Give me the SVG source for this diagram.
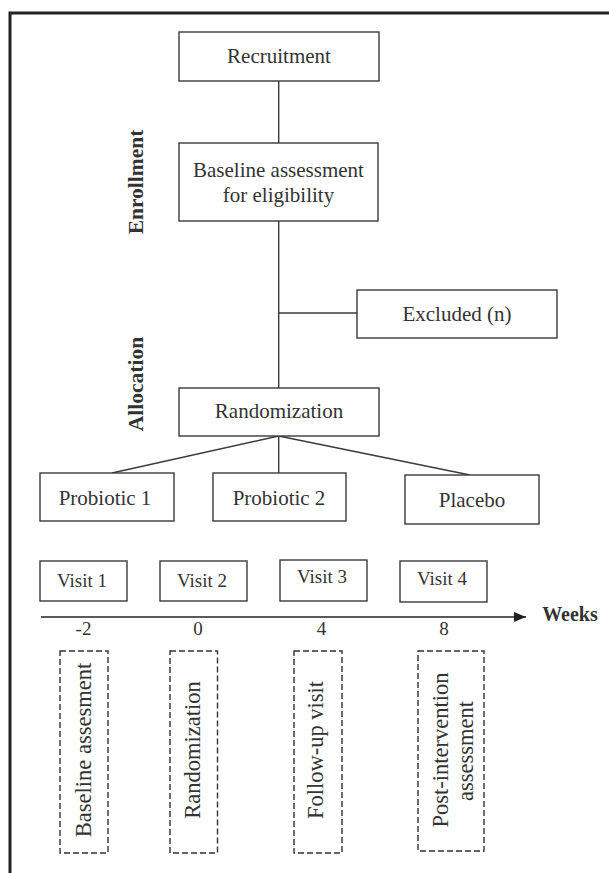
<svg xmlns="http://www.w3.org/2000/svg" width="609" height="873" viewBox="0 0 609 873">
<style>
.box{fill:#fff;stroke:#3a3a3a;stroke-width:1.4}
.dbox{fill:none;stroke:#333;stroke-width:1.4;stroke-dasharray:6 3}
.t{font-family:"Liberation Serif","Times New Roman",serif;font-size:21px;fill:#333;text-anchor:middle}
.b{font-family:"Liberation Serif","Times New Roman",serif;font-size:21.5px;font-weight:bold;fill:#333;text-anchor:middle}
.v{font-family:"Liberation Serif","Times New Roman",serif;font-size:19px;fill:#333;text-anchor:middle}
.r{font-family:"Liberation Serif","Times New Roman",serif;font-size:22.5px;fill:#333;text-anchor:middle}
.ln{fill:none;stroke:#3a3a3a;stroke-width:1.4}
</style>
<defs>
<marker id="arr" viewBox="0 0 12 10" refX="12" refY="5" markerWidth="12" markerHeight="10" markerUnits="userSpaceOnUse" orient="auto">
<path d="M0,0 L12,5 L0,10 Z" fill="#222"/>
</marker>
</defs>
<rect width="609" height="873" fill="#fff"/>
<path d="M10,873 V13 H609" fill="none" stroke="#222" stroke-width="3"/>

<g id="connectors">
<line class="ln" x1="278.7" y1="81" x2="278.7" y2="143"/>
<line class="ln" x1="278.7" y1="221" x2="278.7" y2="388"/>
<line class="ln" x1="278.7" y1="313" x2="357" y2="313"/>
<line class="ln" x1="278.7" y1="436" x2="112" y2="473"/>
<line class="ln" x1="278.7" y1="436" x2="278.7" y2="473"/>
<line class="ln" x1="278.7" y1="436" x2="470" y2="475"/>
<line id="axis" x1="41" y1="617" x2="526" y2="617" stroke="#222" stroke-width="1.6" marker-end="url(#arr)"/>
</g>

<text class="b" transform="translate(143,182) rotate(-90)">Enrollment</text>
<text class="b" transform="translate(143,384) rotate(-90)">Allocation</text>

<g id="recruitment"><rect class="box" x="179" y="32" width="200" height="49"/><text class="t" x="279" y="63">Recruitment</text></g>
<g id="baseline"><rect class="box" x="179" y="143" width="199" height="78"/><text class="t" x="278.5" y="177">Baseline assessment</text><text class="t" x="278.5" y="202">for eligibility</text></g>
<g id="excluded"><rect class="box" x="357" y="290" width="200" height="48"/><text class="t" x="457" y="320.5">Excluded (n)</text></g>
<g id="randomization"><rect class="box" x="179" y="388" width="200" height="48"/><text class="t" x="279" y="418">Randomization</text></g>
<g id="probiotic1"><rect class="box" x="40" y="473" width="134" height="48"/><text class="t" x="105" y="505">Probiotic 1</text></g>
<g id="probiotic2"><rect class="box" x="213" y="473" width="133" height="48"/><text class="t" x="279" y="505">Probiotic 2</text></g>
<g id="placebo"><rect class="box" x="405" y="475" width="134" height="49"/><text class="t" x="472" y="507">Placebo</text></g>

<g id="visit1"><rect class="box" x="40" y="561" width="87" height="40"/><text class="v" x="82" y="587">Visit 1</text></g>
<g id="visit2"><rect class="box" x="160" y="561" width="87" height="40"/><text class="v" x="202" y="587">Visit 2</text></g>
<g id="visit3"><rect class="box" x="280" y="560" width="87" height="41"/><text class="v" x="322" y="583">Visit 3</text></g>
<g id="visit4"><rect class="box" x="400" y="561" width="87" height="41"/><text class="v" x="442" y="585">Visit 4</text></g>

<text class="b" x="570" y="621" style="font-size:20px">Weeks</text>
<g id="ticks">
<text class="v" x="83.5" y="635">-2</text>
<text class="v" x="198" y="635">0</text>
<text class="v" x="321.5" y="635">4</text>
<text class="v" x="444" y="635">8</text>
</g>

<g id="phase1"><rect class="dbox" x="60" y="651" width="48" height="202"/><text class="r" transform="translate(91,750) rotate(-90)">Baseline assesment</text></g>
<g id="phase2"><rect class="dbox" x="170" y="651" width="47.5" height="202"/><text class="r" transform="translate(200,750) rotate(-90)">Randomization</text></g>
<g id="phase3"><rect class="dbox" x="294" y="651" width="48" height="202"/><text class="r" transform="translate(323,750) rotate(-90)">Follow-up visit</text></g>
<g id="phase4"><rect class="dbox" x="418" y="651" width="66" height="200"/><text class="r" transform="translate(448,750) rotate(-90)">Post-intervention</text><text class="r" transform="translate(473,751) rotate(-90)">assessment</text></g>
</svg>
